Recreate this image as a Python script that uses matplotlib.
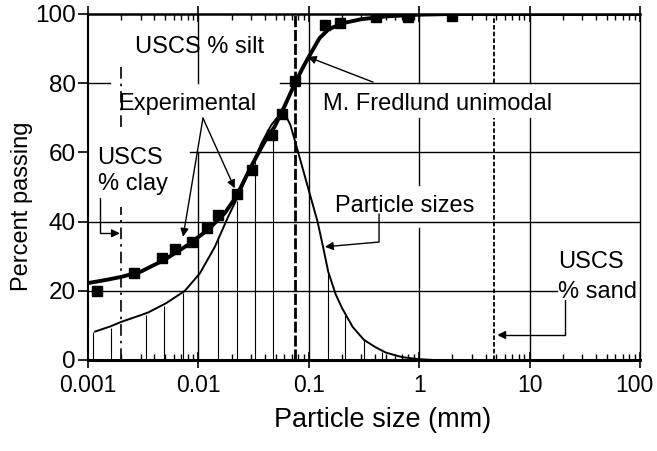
import matplotlib
matplotlib.use('Agg')
import matplotlib.pyplot as plt
import matplotlib.transforms as mtransforms
from matplotlib.ticker import LogLocator, NullFormatter

plt.rcParams['font.family'] = ['Liberation Sans', 'DejaVu Sans']

# experimental grain-size points (mm, % passing)
exp_size = [0.0012, 0.0026, 0.0047, 0.0061, 0.0087, 0.0119, 0.015, 0.0223, 0.0305,
            0.046, 0.057, 0.075, 0.14, 0.19, 0.41, 0.79, 1.97]
exp_pass = [20, 25, 29.5, 32, 34, 38, 42, 48, 55, 65, 71, 80.5, 96.8, 97.5, 99, 99, 99.5]

# M. Fredlund unimodal fit
fit_size = [0.001, 0.0015, 0.002, 0.003, 0.0049, 0.008, 0.0122, 0.0173, 0.022, 0.03,
            0.0398, 0.049, 0.06, 0.075, 0.09, 0.1, 0.125, 0.15, 0.2, 0.3, 0.5, 1, 2, 100]
fit_pass = [22.2, 23.2, 24, 25.5, 28.9, 33.2, 37.6, 42.4, 47.2, 55.9,
            63.1, 67.4, 73.2, 80, 85, 87.6, 93, 95.5, 97.3, 98.5, 99.3, 99.8, 100, 100]

# particle-size distribution (thin curve)
psd_size = [0.00116, 0.0016, 0.002, 0.0028, 0.0035, 0.0051, 0.0075, 0.0103, 0.0141, 0.0186,
            0.0228, 0.0302, 0.0372, 0.0457, 0.0515, 0.0565, 0.062, 0.068, 0.0745, 0.0855,
            0.098, 0.12, 0.135, 0.15, 0.175, 0.2, 0.25, 0.316, 0.4, 0.5, 0.7, 1.0, 1.3]
psd_val = [8.2, 9.7, 11, 12.6, 13.7, 16.4, 19.9, 25, 32.7, 41.4,
           47.2, 55.9, 62.6, 67.9, 70, 70.9, 70.5, 68, 63.6, 56.8,
           50, 40, 32.5, 25.5, 19, 15, 9.5, 5.8, 3.7, 2.1, 0.8, 0.2, 0]

# vertical lines under the distribution curve
bar_size = [0.00112, 0.0016, 0.00335, 0.0049, 0.0072, 0.0151, 0.0222, 0.0325, 0.0475,
            0.15, 0.215, 0.316, 0.464]
bar_val = [8, 9.2, 13, 15.5, 19.3, 35.5, 46, 59, 68, 25.5, 13, 5.8, 2.4]

# USCS boundaries: clay/silt, silt/sand, sand/gravel (mm)
uscs_bounds = [0.002, 0.075, 4.75]

xticks = [0.001, 0.01, 0.1, 1, 10, 100]
xticklabels = ['0.001', '0.01', '0.1', '1', '10', '100']
yticks = [0, 20, 40, 60, 80, 100]

fig = plt.figure(figsize=(6.57, 4.51), dpi=100)
ax = fig.add_axes([0.134, 0.202, 0.840, 0.767])
ax.set_xscale('log')
ax.set_xlim(0.001, 100)
ax.set_ylim(0, 100)

# grid, broken where the labels sit
hgrid = [(80, [(0, 0.04), (0.348, 1)]), (60, [(0.185, 1)]),
         (40, [(0, 1)]), (20, [(0, 0.85)])]
for y, segs in hgrid:
    for a, b in segs:
        ax.axhline(y, a, b, color='k', lw=1.0, zorder=1)
vgrid = [(0.01, [(0, 0.601), (0.80, 1)]), (0.1, [(0, 1)]),
         (1, [(0, 0.38), (0.506, 0.699), (0.80, 1)]), (10, [(0, 0.699), (0.80, 1)])]
for x, segs in vgrid:
    for a, b in segs:
        ax.axvline(x, a, b, color='k', lw=1.0, zorder=1)

# USCS boundary lines
for a, b in [(0, 0.442), (0.673, 0.847)]:
    ax.axvline(uscs_bounds[0], a, b, color='k', lw=1.2, ls=(0, (7, 3, 1.5, 3)), zorder=2)
ax.axvline(uscs_bounds[1], 0, 1, color='k', lw=2.0, ls=(0, (4, 1)), zorder=2)
for a, b in [(0, 0.699), (0.80, 1)]:
    ax.axvline(uscs_bounds[2], a, b, color='k', lw=1.3, ls=(0, (2.5, 1.2)), zorder=2)

ax.vlines(bar_size, 0, bar_val, color='k', lw=0.8, zorder=2)
ax.plot(psd_size, psd_val, color='k', lw=1.4, zorder=3)
ax.plot(fit_size, fit_pass, color='k', lw=2.8, zorder=4)
ax.plot(exp_size, exp_pass, 's', color='k', ms=6.8, zorder=5)

# ticks
ax.set_xticks(xticks)
ax.set_xticklabels(xticklabels, fontsize=16.5)
ax.xaxis.set_minor_locator(LogLocator(base=10, subs=range(2, 10), numticks=20))
ax.xaxis.set_minor_formatter(NullFormatter())
ax.set_yticks(yticks)
ax.set_yticklabels([str(v) for v in yticks], fontsize=17.5)
ax.tick_params(axis='x', which='major', direction='inout', length=12, width=1.2, top=True, pad=4)
ax.tick_params(axis='x', which='minor', direction='in', length=4, width=1.0, top=True)
ax.tick_params(axis='y', which='major', direction='out', length=7, width=1.2, pad=2)

for side, w in [('left', 1.5), ('bottom', 2.2), ('top', 1.8), ('right', 1.0)]:
    ax.spines[side].set_linewidth(w)

ax.set_xlabel('Particle size (mm)', fontsize=19.5)
ax.xaxis.set_label_coords(0.534, -0.136)
ax.set_ylabel('Percent passing', fontsize=17)
ax.yaxis.set_label_coords(-0.0996, 0.445)

# annotations
ax.text(0.00266, 88.6, 'USCS % silt', fontsize=17, va='baseline')
ax.text(0.00187, 72.3, 'Experimental', fontsize=17, va='baseline')
ax.text(0.1346, 72.3, 'M. Fredlund unimodal', fontsize=17, va='baseline')
ax.text(0.1726, 42.7, 'Particle sizes', fontsize=17, va='baseline')
ax.text(0.00122, 49.0, 'USCS\n% clay', fontsize=17, va='baseline', linespacing=1.27)
ax.text(18.1, 17.9, 'USCS\n% sand', fontsize=17, va='baseline', linespacing=1.45)

ap = dict(arrowstyle='-|>', color='k', lw=1.0, mutation_scale=12, shrinkA=0, shrinkB=0)
ax.annotate('', xy=(0.00726, 35.6), xytext=(0.011, 69.9), arrowprops=ap)
ax.annotate('', xy=(0.0213, 49.6), xytext=(0.011, 69.9), arrowprops=ap)
ax.annotate('', xy=(0.098, 87.6), xytext=(0.382, 80.3), arrowprops=ap)
ax.annotate('', xy=(0.00194, 36.6), xytext=(0.00128, 46.7),
            arrowprops=dict(ap, connectionstyle='angle,angleA=90,angleB=0,rad=0'))
ax.annotate('', xy=(0.140, 32.7), xytext=(0.433, 42.2),
            arrowprops=dict(ap, connectionstyle='angle,angleA=90,angleB=5,rad=0'))
ax.annotate('', xy=(5.1, 7.2), xytext=(20.9, 17.3),
            arrowprops=dict(ap, connectionstyle='angle,angleA=90,angleB=0,rad=0'))

# nudge the last x tick label so it stays inside the figure
last = ax.get_xticklabels()[-1]
last.set_transform(last.get_transform() +
                   mtransforms.ScaledTranslation(-0.06, 0, fig.dpi_scale_trans))

fig.savefig('out.png', dpi=100)
